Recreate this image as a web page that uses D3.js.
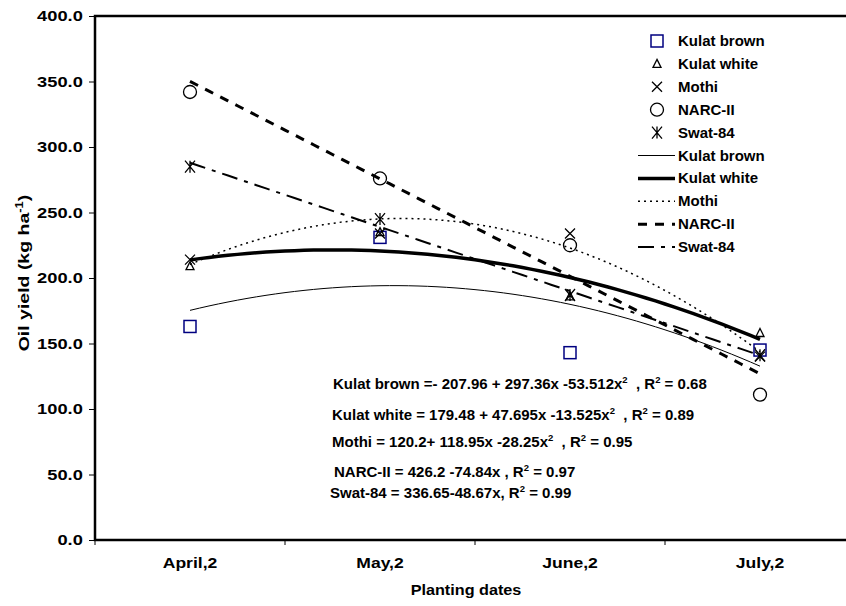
<!DOCTYPE html>
<html>
<head>
<meta charset="utf-8">
<script src="https://cdnjs.cloudflare.com/ajax/libs/d3/7.8.5/d3.min.js"></script>
<style>
  body { margin: 0; background: #fff; }
  svg { display: block; font-family: Arial, "Liberation Sans", sans-serif; font-weight: bold; }
</style>
</head>
<body>
<div id="chart"></div>
<script>
// planting dates (categories)
const dates = ["April,2", "May,2", "June,2", "July,2"];

// oil yield (kg/ha) per cultivar
const kulatBrown = [163, 231, 143, 145];
const kulatWhite = [209, 235, 186, 158];
const mothi = [214, 234, 234, 140];
const narc2 = [342, 276, 225, 111];
const swat84 = [285, 245, 187, 141];

const yTicks = [0, 50, 100, 150, 200, 250, 300, 350, 400];

const equations = [
    ["Kulat brown =- 207.96 + 297.36x -53.512x", "2", "  , R", "2", " = 0.68"],
    ["Kulat white = 179.48 + 47.695x -13.525x", "2", "  , R", "2", " = 0.89"],
    ["Mothi = 120.2+ 118.95x -28.25x", "2", "  , R", "2", " = 0.95"],
    ["NARC-II = 426.2 -74.84x , R", "2", " = 0.97"],
    ["Swat-84 = 336.65-48.67x, R", "2", " = 0.99"]
];

const series = [
    {name: "Kulat brown", values: kulatBrown, marker: "square", order: 2, line: {w: 1, dash: null}},
    {name: "Kulat white", values: kulatWhite, marker: "triangle", order: 2, line: {w: 3.5, dash: null}},
    {name: "Mothi", values: mothi, marker: "cross", order: 2, line: {w: 1.5, dash: "2,4"}},
    {name: "NARC-II", values: narc2, marker: "circle", order: 1, line: {w: 3, dash: "9,8"}},
    {name: "Swat-84", values: swat84, marker: "star", order: 1, line: {w: 2, dash: "16,7,4,7"}}
];

const W = 846, H = 606;
const pLeft = 95, pTop = 16, pBottom = 540, pRight = 855;

const svg = d3.select("#chart").append("svg")
    .attr("width", W).attr("height", H);

// x: categories centred in equal bands, plus a linear scale on index for trends
const x = d3.scaleBand().domain(dates).range([pLeft, pRight]);
const xi = d3.scaleLinear().domain([0.5, dates.length + 0.5]).range([pLeft, pRight]);
const y = d3.scaleLinear().domain([0, 400]).range([pBottom, pTop]);

// least squares polynomial fit (what the trendlines are)
function polyFit(vals, order) {
    const n = order + 1;
    const A = d3.range(n).map(() => new Array(n + 1).fill(0));
    vals.forEach((v, i) => {
        const xv = i + 1;
        for (let r = 0; r < n; r++) {
            for (let c = 0; c < n; c++) A[r][c] += Math.pow(xv, r + c);
            A[r][n] += v * Math.pow(xv, r);
        }
    });
    for (let p = 0; p < n; p++) {
        for (let r = p + 1; r < n; r++) {
            const f = A[r][p] / A[p][p];
            for (let c = p; c <= n; c++) A[r][c] -= f * A[p][c];
        }
    }
    const coef = new Array(n).fill(0);
    for (let r = n - 1; r >= 0; r--) {
        let s = A[r][n];
        for (let c = r + 1; c < n; c++) s -= A[r][c] * coef[c];
        coef[r] = s / A[r][r];
    }
    return xv => coef.reduce((acc, c, k) => acc + c * Math.pow(xv, k), 0);
}

// y axis
const yAxis = svg.append("g")
    .attr("transform", "translate(" + pLeft + ",0)")
    .call(d3.axisLeft(y).tickValues(yTicks).tickFormat(d3.format(".1f")).tickSize(6).tickPadding(5));
yAxis.select(".domain").remove();
yAxis.selectAll("line").attr("stroke", "#000");
yAxis.selectAll("text")
    .attr("x", -10)
    .attr("transform", "scale(1.22,1)")
    .style("font-size", "15px").style("font-weight", "bold")
    .style("font-family", "Arial, 'Liberation Sans', sans-serif").attr("fill", "#000");

// x axis ticks at category boundaries
const bounds = d3.range(dates.length + 1).map(i => pLeft + i * x.bandwidth());
svg.append("g").selectAll("line")
    .data(bounds)
    .enter().append("line")
    .attr("x1", d => d).attr("x2", d => d)
    .attr("y1", pBottom).attr("y2", pBottom + 5)
    .attr("stroke", "#000");

svg.append("g").selectAll("text")
    .data(dates)
    .enter().append("text")
    .attr("transform", d => "translate(" + (x(d) + x.bandwidth() / 2) + ",568) scale(1.17,1)")
    .attr("text-anchor", "middle")
    .style("font-size", "15px")
    .text(d => d);

// frame
svg.append("path")
    .attr("d", "M" + pRight + "," + pTop + "H" + pLeft + "V" + pBottom + "H" + pRight)
    .attr("fill", "none").attr("stroke", "#000").attr("stroke-width", 2.5);

// axis titles
svg.append("text")
    .attr("transform", "translate(466,595) scale(1.08,1)")
    .attr("text-anchor", "middle")
    .style("font-size", "15px")
    .text("Planting dates");

const yt = svg.append("text")
    .attr("transform", "translate(29,273) rotate(-90) scale(1.3,1)")
    .attr("text-anchor", "middle")
    .style("font-size", "15px");
yt.append("tspan").text("Oil yield (kg ha");
yt.append("tspan").attr("dy", -6).style("font-size", "10px").text("-1");
yt.append("tspan").attr("dy", 6).text(")");

// trendlines
const lineGen = d3.line().x(d => xi(d[0])).y(d => y(d[1]));
const trendG = svg.append("g");
series.forEach(s => {
    const f = polyFit(s.values, s.order);
    const pts = d3.range(1, dates.length + 0.001, 0.05).map(t => [t, f(t)]);
    trendG.append("path")
        .datum(pts)
        .attr("d", lineGen)
        .attr("fill", "none")
        .attr("stroke", "#000")
        .attr("stroke-width", s.line.w)
        .attr("stroke-dasharray", s.line.dash);
});

// markers
function drawMarker(g, type, cx, cy) {
    if (type === "square") {
        g.append("rect").attr("x", cx - 6).attr("y", cy - 6).attr("width", 12).attr("height", 12)
            .attr("fill", "none").attr("stroke", "#000080").attr("stroke-width", 1.5);
    } else if (type === "triangle") {
        g.append("path").attr("d", "M" + cx + "," + (cy - 4.5) + "L" + (cx + 4) + "," + (cy + 3.5) + "L" + (cx - 4) + "," + (cy + 3.5) + "Z")
            .attr("fill", "none").attr("stroke", "#000").attr("stroke-width", 1.3);
    } else if (type === "cross") {
        g.append("path").attr("d", "M" + (cx - 5) + "," + (cy - 5) + "L" + (cx + 5) + "," + (cy + 5) + "M" + (cx + 5) + "," + (cy - 5) + "L" + (cx - 5) + "," + (cy + 5))
            .attr("stroke", "#000").attr("stroke-width", 1.3);
    } else if (type === "circle") {
        g.append("circle").attr("cx", cx).attr("cy", cy).attr("r", 6.5)
            .attr("fill", "none").attr("stroke", "#000").attr("stroke-width", 1.3);
    } else if (type === "star") {
        g.append("path").attr("d", "M" + (cx - 5) + "," + (cy - 6) + "L" + (cx + 5) + "," + (cy + 6) + "M" + (cx + 5) + "," + (cy - 6) + "L" + (cx - 5) + "," + (cy + 6) + "M" + cx + "," + (cy - 6) + "V" + (cy + 6))
            .attr("stroke", "#000").attr("stroke-width", 1.3);
    }
}

const markG = svg.append("g");
series.forEach(s => {
    s.values.forEach((v, i) => drawMarker(markG, s.marker, x(dates[i]) + x.bandwidth() / 2, y(v)));
});

// legend
const legend = svg.append("g");
const legY0 = 41, legStep = 22.9;
series.forEach((s, i) => {
    const ly = legY0 + i * legStep;
    drawMarker(legend, s.marker, 657, ly);
    legend.append("text").attr("x", 678).attr("y", ly + 5).style("font-size", "15px").text(s.name);
});
series.forEach((s, i) => {
    const ly = legY0 + (i + 5) * legStep;
    legend.append("line").attr("x1", 638).attr("x2", 675).attr("y1", ly).attr("y2", ly)
        .attr("stroke", "#000").attr("stroke-width", s.line.w).attr("stroke-dasharray", s.line.dash);
    legend.append("text").attr("x", 678).attr("y", ly + 5).style("font-size", "15px").text(s.name);
});

// equations
const eqPos = [[333, 389], [332, 420], [332, 447], [334, 477], [330, 498]];
equations.forEach((parts, i) => {
    const t = svg.append("text").attr("x", eqPos[i][0]).attr("y", eqPos[i][1]).style("font-size", "15px");
    parts.forEach((p, k) => {
        if (p === "2") {
            t.append("tspan").attr("dy", -6).style("font-size", "9.5px").text(p);
        } else {
            t.append("tspan").attr("dy", k === 0 ? 0 : 6).style("white-space", "pre").text(p);
        }
    });
});
</script>
</body>
</html>
